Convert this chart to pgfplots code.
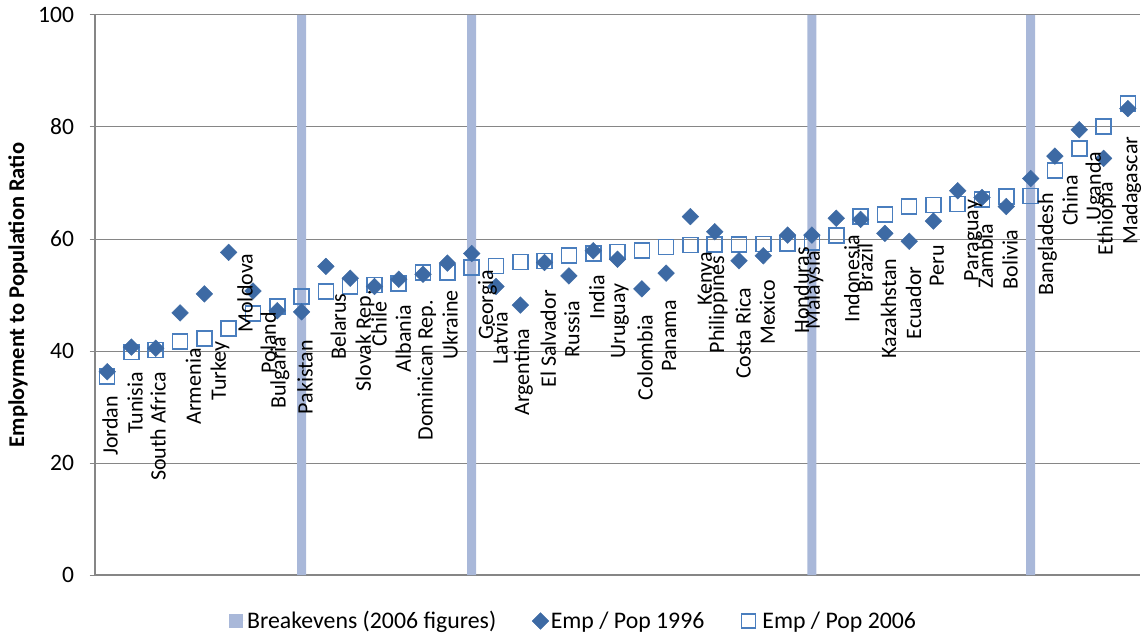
\documentclass[border=0pt]{standalone}
\usepackage{fontspec}
\setmainfont{Carlito}
\usepackage{pgfplots}
\pgfplotsset{compat=1.18}
\definecolor{barcol}{RGB}{169,184,217}
\definecolor{diamcol}{RGB}{61,106,164}
\definecolor{sqcol}{RGB}{74,126,190}
\definecolor{gridcol}{RGB}{134,134,134}
\begin{document}
\begin{tikzpicture}
\begin{axis}[
  name=a,
  scale only axis,
  width=1045bp, height=560bp,
  xmin=0.5, xmax=43.5, ymin=0, ymax=100,
  xtick=\empty,
  ytick={0,20,40,60,80,100},
  ymajorgrids,
  grid style={draw=gridcol, line width=1bp},
  axis lines=left,
  axis line style={draw=gridcol, line width=1.2bp, -},
  tick align=center, major tick length=11bp,
  ytick style={draw=gridcol, line width=1bp},
  /pgf/number format/assume math mode=true,
  yticklabel style={font=\fontsize{23.5bp}{27bp}\selectfont, xshift=-12bp},
  every axis y label/.style={at={(axis description cs:-0.0737,0.5)}, rotate=90, anchor=center, font=\bfseries\fontsize{22.5bp}{27bp}\selectfont},
  ylabel={Employment to Population Ratio},
  legend columns=3,
  legend style={draw=none, fill=none, at={(axis description cs:0.458,-0.082)}, anchor=center,
    font=\fontsize{23.8bp}{27bp}\selectfont,
    /tikz/every even column/.append style={column sep=34bp}},
  legend image code/.code={\draw[mark repeat=1,mark phase=1,#1] plot coordinates {(8bp,0bp)};},
]
% breakeven bars
\addplot[ybar, bar width=9bp, fill=barcol, draw=none,
  legend image code/.code={\fill[barcol] (0bp,-7bp) rectangle (14bp,7bp); \path[draw=none] (0bp,0bp) -- (16bp,0bp);}]
  coordinates {(9,100) (16,100) (30,100) (39,100)};
\addlegendentry{Breakevens (2006 figures)}
% 2006 squares (drawn beneath diamonds)
\addplot[only marks, mark=square, mark size=7.5bp, mark options={draw=sqcol, line width=1.6bp, fill=none}, forget plot]
  coordinates {
(1,35.5) (2,39.8) (3,40.2) (4,41.7) (5,42.2) (6,44.0) (7,46.7) (8,48.0) (9,49.7)
(10,50.6) (11,51.5) (12,51.8) (13,52.1) (14,54.0) (15,54.0) (16,54.9) (17,55.2)
(18,55.9) (19,56.1) (20,57.1) (21,57.4) (22,57.7) (23,57.9) (24,58.6) (25,58.9)
(26,59.05) (27,59.05) (28,59.1) (29,59.2) (30,59.4) (31,60.6) (32,64.0) (33,64.4)
(34,65.8) (35,66.1) (36,66.25) (37,67.1) (38,67.6) (39,67.7) (40,72.2) (41,76.2)
(42,80.1) (43,84.2)
};
% 1996 diamonds
\addplot[only marks, mark=square*, mark size=5.9bp, mark options={rotate=45, draw=diamcol, fill=diamcol}]
  coordinates {
(1,36.3) (2,40.7) (3,40.5) (4,46.8) (5,50.2) (6,57.6) (7,50.7) (8,47.2) (9,47.0)
(10,55.1) (11,53.0) (12,51.5) (13,52.8) (14,53.7) (15,55.7) (16,57.4) (17,51.5)
(18,48.2) (19,55.8) (20,53.4) (21,57.9) (22,56.4) (23,51.1) (24,53.9) (25,64.0)
(26,61.3) (27,56.1) (28,57.0) (29,60.7) (30,60.7) (31,63.7) (32,63.5) (33,61.0)
(34,59.6) (35,63.2) (36,68.6) (37,67.4) (38,65.8) (39,70.8) (40,74.8) (41,79.5)
(42,74.4) (43,83.3)
};
\addlegendentry{Emp / Pop 1996}
\addlegendimage{draw=none, legend image code/.code={\draw[draw=sqcol, line width=1.6bp] (1bp,-7bp) rectangle (15bp,7bp); \path[draw=none] (0bp,0bp) -- (20bp,0bp);}}
\addlegendentry{Emp / Pop 2006}
% country labels
\addplot[draw=none, mark=none, forget plot, nodes near coords, point meta=explicit symbolic,
  nodes near coords style={rotate=90, anchor=east, inner sep=0pt, font=\fontsize{22bp}{26bp}\selectfont, text=black}]
  coordinates {
(1.12,31.96) [Jordan]
(2.15,36.3) [Tunisia]
(3.10,36.3) [South Africa]
(4.55,40.5) [Armenia]
(5.64,41.7) [Turkey]
(6.67,57.4) [Moldova]
(7.63,47.0) [Poland]
(8.11,42.6) [Bulgaria]
(9.14,42.0) [Pakistan]
(10.51,50.3) [Belarus]
(11.61,50.9) [Slovak Rep.]
(12.19,48.8) [Chile]
(13.19,48.2) [Albania]
(14.15,49.1) [Dominican Rep.]
(15.11,50.9) [Ukraine]
(16.65,54.5) [Georgia]
(17.17,47.0) [Latvia]
(18.13,44.05) [Argentina]
(19.15,50.9) [El Salvador]
(20.12,49.0) [Russia]
(21.15,53.6) [India]
(22.10,52.1) [Uruguay]
(23.13,46.4) [Colombia]
(24.13,49.1) [Panama]
(25.67,57.7) [Kenya]
(26.15,57.05) [Philippines]
(27.17,51.3) [Costa Rica]
(28.17,52.7) [Mexico]
(29.57,58.6) [Honduras]
(30.09,57.9) [Malaysia]
(31.64,60.7) [Indonesia]
(32.19,59.2) [Brazil]
(33.15,56.5) [Kazakhstan]
(34.18,55.1) [Ecuador]
(35.14,58.9) [Peru]
(36.64,67.0) [Paraguay]
(37.13,62.8) [Zambia]
(38.15,61.6) [Bolivia]
(39.69,68.2) [Bangladesh]
(40.62,71.4) [China]
(41.65,75.6) [Uganda]
(42.13,70.2) [Ethiopia]
(43.16,78.3) [Madagascar]
};
\end{axis}
\pgfresetboundingbox
\path[use as bounding box] ([shift={(-95bp,-67bp)}]a.south west) rectangle ([shift={(7bp,15bp)}]a.north east);
\end{tikzpicture}
\end{document}
